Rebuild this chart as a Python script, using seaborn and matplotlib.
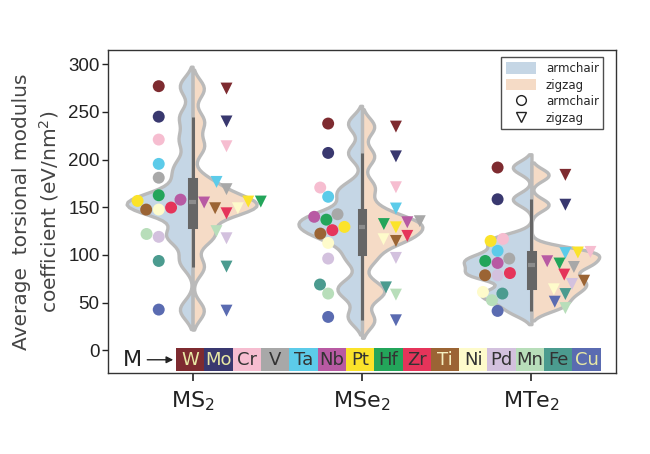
import pandas as pd
import matplotlib.pyplot as plt
import seaborn as sns
from matplotlib.patches import Rectangle, Patch
from matplotlib.lines import Line2D

# --- data ---
materials = ["MS2", "MSe2", "MTe2"]
material_labels = ["MS$_2$", "MSe$_2$", "MTe$_2$"]
directions = ["armchair", "zigzag"]
elements = ["W", "Mo", "Cr", "V", "Ta", "Nb", "Pt", "Hf", "Zr", "Ti", "Ni", "Pd", "Mn", "Fe", "Cu"]
element_colors = ["#7e2b30", "#39386f", "#f6bdd0", "#a8a8a8", "#5ccbe9", "#b85aa3", "#fbe32a",
                  "#23a55a", "#e5345a", "#9b6434", "#fefbcb", "#d3c1de", "#b8deba", "#4b9b8f", "#5a6bb1"]
label_colors = ["#e8e8a4", "#e8e8a4", "#333333", "#333333", "#333333", "#333333", "#333333",
                "#333333", "#333333", "#f4eec0", "#333333", "#333333", "#333333", "#333333", "#e8e8a4"]

# values in element order (W ... Cu)
ms2_armchair = [277, 245, 221, 181, 195.5, 158, 156.7, 162.6, 149.7, 147.6, 147.6, 119, 122, 93.7, 42.7]
ms2_zigzag = [274.5, 240, 214, 169, 176.6, 155, 156, 156, 143.7, 149, 149, 117.5, 125, 87.8, 41.6]
mse2_armchair = [237.8, 207, 170.7, 142.7, 161, 140, 129.4, 137, 126, 122.4, 112.6, 96.2, 59.5, 69, 35]
mse2_zigzag = [234.6, 203.4, 171, 135.4, 148.7, 134.3, 129, 132.4, 120, 114.7, 116.5, 96.9, 58.4, 66, 31.5]
mte2_armchair = [191.7, 158.4, 116.8, 96.2, 104.3, 91.6, 114.7, 93.7, 81, 78.7, 61.2, 78.7, 52.5, 59.5, 41.3]
mte2_zigzag = [184, 152.7, 103.2, 87.4, 102, 93.4, 102.6, 91, 79.4, 73, 64, 69.6, 44.3, 59, 51]

values = {
    ("MS2", "armchair"): ms2_armchair, ("MS2", "zigzag"): ms2_zigzag,
    ("MSe2", "armchair"): mse2_armchair, ("MSe2", "zigzag"): mse2_zigzag,
    ("MTe2", "armchair"): mte2_armchair, ("MTe2", "zigzag"): mte2_zigzag,
}
rows = []
for (mat, d), vals in values.items():
    for el, v in zip(elements, vals):
        rows.append({"material": mat, "direction": d, "element": el, "value": v})
df = pd.DataFrame(rows)

sns.set_theme(style="ticks")
plt.rcParams["font.family"] = ["Liberation Sans", "DejaVu Sans"]
plt.rcParams["mathtext.default"] = "regular"

fig = plt.figure(figsize=(6.5, 4.54), dpi=100)
ax = fig.add_axes([0.166, 0.178, 0.782, 0.712])

# split violins
sns.violinplot(data=df, x="material", y="value", hue="direction", order=materials,
               hue_order=directions, split=True, inner=None, bw_adjust=0.3, cut=2,
               palette=["#c5d6e5", "#f5dbc6"], saturation=1, linecolor="#bababa",
               linewidth=2.4, legend=False, ax=ax)

# box of the combined data
sns.boxplot(data=df, x="material", y="value", order=materials, width=0.04, whis=1.5,
            showfliers=False, showcaps=False, color="#666666", linecolor="#666666",
            linewidth=2.2, saturation=1, medianprops=dict(color="#8c8c8c", linewidth=3),
            ax=ax)

# element points
for d, marker in [("armchair", "o"), ("zigzag", "v")]:
    sub = df[df["direction"] == d]
    n0 = len(ax.collections)
    sns.swarmplot(data=sub, x="material", y="value", hue="direction", order=materials,
                  hue_order=directions, dodge=True, marker=marker, size=8.6, linewidth=0,
                  legend=False, ax=ax)
    for coll in ax.collections[n0:]:
        if len(coll.get_offsets()) == len(elements):
            coll.set_facecolor(element_colors)
            coll.set_edgecolor("none")
            coll.set_zorder(4)

ax.set_ylim(-24, 315)
ax.set_xlim(-0.5, 2.5)
ax.set_yticks(range(0, 301, 50))
ax.set_xticks(range(len(materials)))
ax.set_xticklabels(material_labels, fontsize=16, family="DejaVu Sans", color="#222222")
ax.tick_params(axis="y", labelsize=13.5, length=4, width=1, colors="#222222", pad=2)
ax.tick_params(axis="x", length=6, width=1.2, pad=6, colors="#222222")
ax.set_xlabel("")
ax.set_ylabel("Average  torsional modulus\ncoefficient (eV/nm$^2$)", fontsize=14.5,
              family="DejaVu Sans", color="#444444", linespacing=1.3, labelpad=5)
for s in ax.spines.values():
    s.set_visible(True)
    s.set_linewidth(1)
    s.set_color("#333333")

# element colour key along the bottom
x0, w, y0, h = 0.134, 0.0557, 0.006, 0.071
for i, (el, c, tc) in enumerate(zip(elements, element_colors, label_colors)):
    ax.add_patch(Rectangle((x0 + i * w, y0), w, h, transform=ax.transAxes, facecolor=c,
                           edgecolor="none", zorder=5))
    ax.text(x0 + (i + 0.5) * w, y0 + h / 2, el, transform=ax.transAxes, ha="center",
            va="center", fontsize=13, color=tc, family="DejaVu Sans", zorder=6)
ax.text(0.048, y0 + h / 2, "M", transform=ax.transAxes, ha="center", va="center",
        fontsize=16, family="DejaVu Sans", color="#222222")
ax.annotate("", xy=(x0, y0 + h / 2), xytext=(0.072, y0 + h / 2), xycoords="axes fraction",
            arrowprops=dict(arrowstyle="-|>", color="#222222", lw=1, mutation_scale=10))

# legend
handles = [Patch(facecolor="#c5d6e5", edgecolor="none", label="armchair"),
           Patch(facecolor="#f5dbc6", edgecolor="none", label="zigzag"),
           Line2D([], [], ls="", marker="o", mfc="none", mec="#222222", ms=7, label="armchair"),
           Line2D([], [], ls="", marker="v", mfc="none", mec="#222222", ms=7, label="zigzag")]
leg = ax.legend(handles=handles, loc="upper right", bbox_to_anchor=(0.975, 0.977),
                borderaxespad=0, frameon=True, fancybox=False, edgecolor="#222222",
                handlelength=2.6, handleheight=1.1, labelspacing=0.3,
                prop={"family": "DejaVu Sans", "size": 8.5})
leg.get_frame().set_linewidth(1)
leg.set_zorder(7)

fig.savefig("out.png", dpi=100)
